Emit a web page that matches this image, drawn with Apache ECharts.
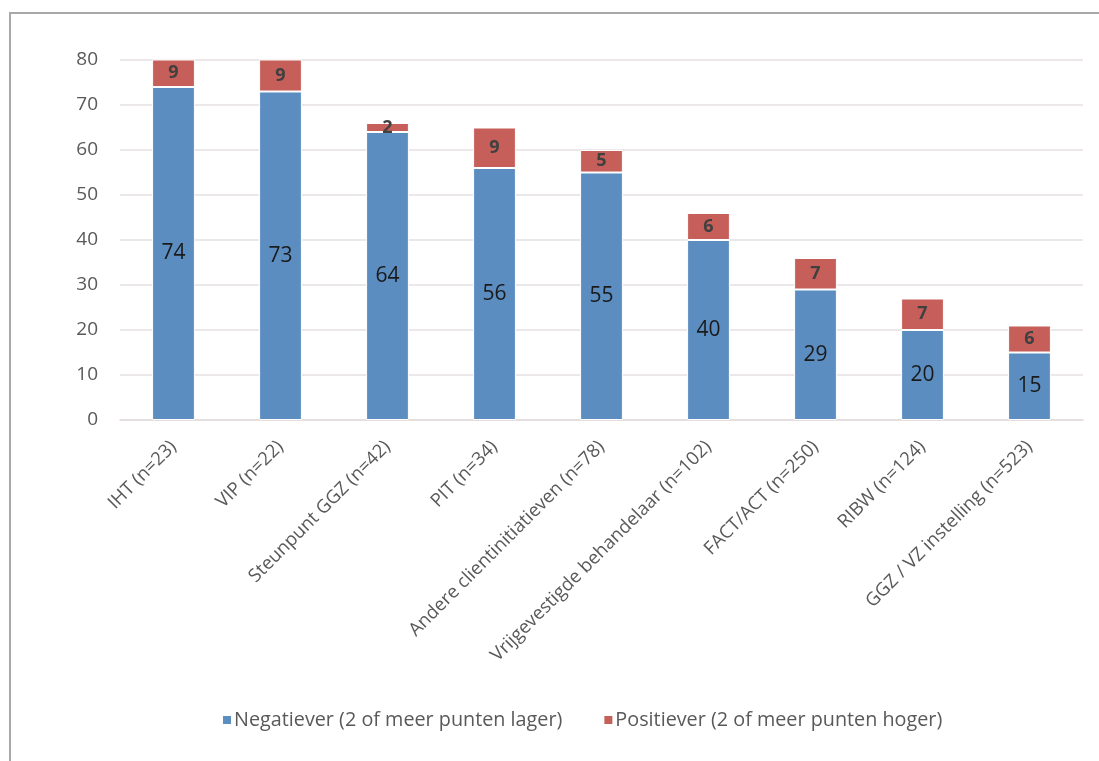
<!DOCTYPE html>
<html><head><meta charset="utf-8">
<script src="https://cdn.jsdelivr.net/npm/echarts@6/dist/echarts.min.js"></script>
<style>
html,body{margin:0;padding:0;background:#fff;}
#frame{position:absolute;left:9px;top:12px;width:1090px;height:749px;border-left:2px solid #a8a8a8;border-top:2px solid #a8a8a8;box-sizing:border-box;}
#c{position:absolute;left:0;top:0;width:1099px;height:761px;}
</style></head>
<body>
<div id="frame"></div>
<div id="c"></div>
<script>
const categories = ["IHT (n=23)","VIP (n=22)","Steunpunt GGZ (n=42)","PIT (n=34)","Andere clientinitiatieven (n=78)","Vrijgevestigde behandelaar (n=102)","FACT/ACT (n=250)","RIBW (n=124)","GGZ / VZ instelling (n=523)"];
const negatiever = [74,73,64,56,55,40,29,20,15];
const positiever = [9,9,2,9,5,6,7,7,6];
const seriesNames = ["Negatiever (2 of meer punten lager)","Positiever (2 of meer punten hoger)"];
const yTicks = {min:0,max:80,interval:10};

const chart = echarts.init(document.getElementById('c'));
const font = "'Open Sans', sans-serif";
chart.setOption({
  backgroundColor: 'transparent',
  animation: false,
  textStyle: {fontFamily: font},
  grid: {left:120, right:16, top:60, bottom:341},
  legend: {
    top: 705, left: 216, itemGap: 40, itemWidth: 10, itemHeight: 10,
    icon: 'rect',
    textStyle: {fontFamily: font, fontSize: 19.8, color: '#595959', padding:[0,0,0,-3]},
    data: seriesNames
  },
  xAxis: {
    type: 'category', data: categories,
    axisLine: {lineStyle:{color:'#e2dadc', width:1.5}},
    axisTick: {show:false},
    axisLabel: {rotate:45, interval:0, fontSize:18.5, color:'#595959', fontFamily: font, margin:24}
  },
  yAxis: {
    type: 'value', min: yTicks.min, max: yTicks.max, interval: yTicks.interval,
    axisLine: {show:false}, axisTick: {show:false},
    splitLine: {lineStyle:{color:'#e6e0e2', width:1.5}},
    axisLabel: {fontSize:19, color:'#595959', fontFamily: font, margin:22}
  },
  series: [
    {
      name: seriesNames[0], type: 'bar', stack: 'a', data: negatiever, barWidth: '40%',
      itemStyle: {color:'#5b8dc0', borderColor:'#ffffff', borderWidth:1},
      label: {show:true, position:'inside', fontSize:21, color:'#1a1a1a', fontFamily: font}
    },
    {
      name: seriesNames[1], type: 'bar', stack: 'a', data: positiever, barWidth: '40%',
      itemStyle: {color:'#c65f5a', borderColor:'#ffffff', borderWidth:1},
      label: {show:true, position:'inside', fontSize:18, fontWeight:'bold', color:'#404040', fontFamily: font}
    }
  ]
});
</script>
</body></html>
